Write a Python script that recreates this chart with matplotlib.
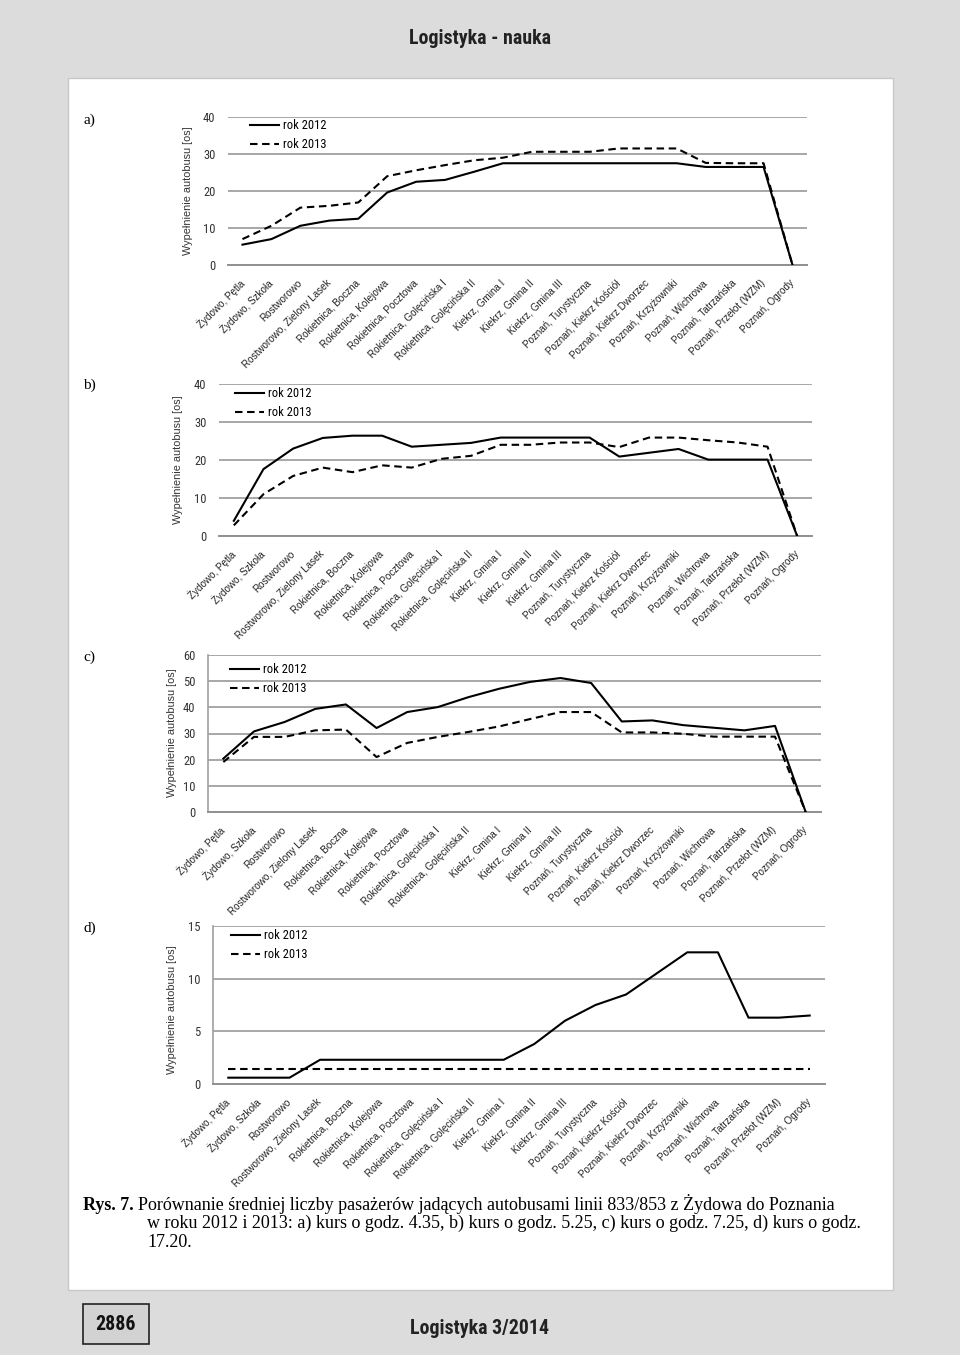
import matplotlib
matplotlib.use("Agg")
import matplotlib.pyplot as plt
from matplotlib import font_manager
from matplotlib.patches import Rectangle

# ---------------- data ----------------
stops = ["Żydowo, Pętla", "Żydowo, Szkoła", "Rostworowo", "Rostworowo, Zielony Lasek",
         "Rokietnica, Boczna", "Rokietnica, Kolejowa", "Rokietnica, Pocztowa",
         "Rokietnica, Golęcińska I", "Rokietnica, Golęcińska II", "Kiekrz, Gmina I",
         "Kiekrz, Gmina II", "Kiekrz, Gmina III", "Poznań, Turystyczna",
         "Poznań, Kiekrz Kościół", "Poznań, Kiekrz Dworzec", "Poznań, Krzyżowniki",
         "Poznań, Wichrowa", "Poznań, Tatrzańska", "Poznań, Przełot (WZM)", "Poznań, Ogrody"]

a_2012 = [5.5, 7.0, 10.6, 12.0, 12.5, 19.6, 22.5, 23.0, 25.2, 27.5, 27.5, 27.5, 27.5, 27.5, 27.5, 27.5, 26.5, 26.5, 26.5, 0]
a_2013 = [7.0, 10.6, 15.5, 16.0, 16.9, 24.0, 25.6, 27.0, 28.3, 29.0, 30.6, 30.6, 30.6, 31.5, 31.5, 31.5, 27.6, 27.5, 27.5, 0]

b_2012 = [4.0, 17.6, 23.0, 25.8, 26.4, 26.4, 23.5, 24.0, 24.5, 25.9, 25.9, 25.9, 25.9, 20.9, 21.9, 22.9, 20.1, 20.1, 20.1, 0]
b_2013 = [2.8, 11.0, 15.8, 18.0, 16.8, 18.6, 18.0, 20.3, 21.1, 24.0, 24.0, 24.6, 24.6, 23.4, 25.9, 25.9, 25.2, 24.6, 23.5, 0]

c_2012 = [20.4, 30.8, 34.4, 39.4, 41.1, 32.1, 38.2, 40.1, 43.9, 47.1, 49.7, 51.2, 49.3, 34.6, 35.0, 33.2, 32.2, 31.2, 32.9, 0]
c_2013 = [19.1, 28.7, 28.7, 31.2, 31.5, 21.0, 26.4, 28.7, 30.6, 32.7, 35.5, 38.2, 38.2, 30.4, 30.4, 29.9, 28.8, 28.8, 28.8, 0]

d_2012 = [0.6, 0.6, 0.6, 2.3, 2.3, 2.3, 2.3, 2.3, 2.3, 2.3, 3.8, 6.0, 7.5, 8.5, 10.5, 12.5, 12.5, 6.3, 6.3, 6.5]
d_2013 = [1.4, 1.4, 1.4, 1.4, 1.4, 1.4, 1.4, 1.4, 1.4, 1.4, 1.4, 1.4, 1.4, 1.4, 1.4, 1.4, 1.4, 1.4, 1.4, 1.4]

series_labels = ["rok 2012", "rok 2013"]
panel_letters = ["a)", "b)", "c)", "d)"]
y_maxes = [40, 40, 60, 15]
y_steps = [10, 10, 10, 5]
y_title = "Wypełnienie autobusu [os]"

header = "Logistyka - nauka"
footer = "Logistyka 3/2014"
page_no = "2886"
cap_bold = "Rys. 7."
cap_l1 = "Porównanie średniej liczby pasażerów jadących autobusami linii 833/853 z Żydowa do Poznania"
cap_l2 = "w roku 2012 i 2013: a) kurs o godz. 4.35, b) kurs o godz. 5.25, c) kurs o godz. 7.25, d) kurs o godz."
cap_l3 = "17.20."

# ---------------- fonts ----------------
avail = {f.name for f in font_manager.fontManager.ttflist}
def pick(*names):
    for n in names:
        if n in avail:
            return n
    return "DejaVu Sans"
SANS = pick("Liberation Sans", "Arial", "DejaVu Sans")
NARROW = pick("Liberation Sans Narrow", "DejaVu Sans Condensed", "Roboto Condensed", "Liberation Sans")
SERIF = pick("Liberation Serif", "DejaVu Serif")

W, H = 960, 1355
fig = plt.figure(figsize=(W / 100, H / 100), dpi=100)
fig.patch.set_facecolor("#dcdcdc")

def rect(l, t, r, b):
    return [l / W, 1 - b / H, (r - l) / W, (b - t) / H]

def fx(x):
    return x / W

def fy(y):
    return 1 - y / H

# white page
fig.patches.append(Rectangle((fx(68), fy(1290)), (893 - 68) / W, (1290 - 78) / H,
                             transform=fig.transFigure, facecolor="white",
                             edgecolor="#c8c8c8", lw=1, zorder=-10))

# header / footer
fig.text(fx(480), fy(38), header, ha="center", va="center", fontsize=14.3,
         fontweight="bold", family=[NARROW, "DejaVu Sans"], color="#222222")
fig.text(fx(480), fy(1328), footer, ha="center", va="center", fontsize=14.3,
         fontweight="bold", family=[NARROW, "DejaVu Sans"], color="#222222")
fig.patches.append(Rectangle((fx(83), fy(1344)), (149 - 83) / W, (1344 - 1304) / H,
                             transform=fig.transFigure, facecolor="#d2d2d2",
                             edgecolor="#222222", lw=1.2, zorder=-5))
fig.text(fx(116), fy(1324), page_no, ha="center", va="center", fontsize=14.3,
         fontweight="bold", family=[NARROW, "DejaVu Sans"], color="#111111")

panels = [
    dict(box=(228, 117, 807, 265), spine=False, ylab=(188, 191), leg=(250, 119), letter=(83, 120),
         s12=a_2012, s13=a_2013),
    dict(box=(219, 384, 812, 536), spine=False, ylab=(178, 460), leg=(235, 387), letter=(83, 385),
         s12=b_2012, s13=b_2013),
    dict(box=(208, 655, 821, 812), spine=True, ylab=(172, 733), leg=(230, 663), letter=(83, 657),
         s12=c_2012, s13=c_2013),
    dict(box=(213, 926, 825, 1084), spine=True, ylab=(172, 1010), leg=(231, 929), letter=(83, 928),
         s12=d_2012, s13=d_2013),
]

grid_c = "#a0a0a0"
for i, p in enumerate(panels):
    l, t, r, b = p["box"]
    ax = fig.add_axes(rect(l, t, r, b))
    ax.set_facecolor("none")
    x = list(range(len(stops)))
    ax.plot(x, p["s12"], color="black", lw=1.5, solid_joinstyle="round",
            label=series_labels[0], zorder=3)
    ax.plot(x, p["s13"], color="black", lw=1.5, dashes=(3.6, 2.2),
            label=series_labels[1], zorder=3)
    ax.set_xlim(-0.5, len(stops) - 0.5)
    ax.set_ylim(0, y_maxes[i])
    ax.set_yticks(range(0, y_maxes[i] + 1, y_steps[i]))
    ax.yaxis.grid(True, color=grid_c, lw=1.3)
    ax.set_axisbelow(True)
    for side in ["top", "right"]:
        ax.spines[side].set_visible(False)
    ax.spines["left"].set_visible(p["spine"])
    ax.spines["left"].set_color(grid_c)
    ax.spines["left"].set_linewidth(1.2)
    ax.spines["bottom"].set_color("#909090")
    ax.spines["bottom"].set_linewidth(1.4)
    ax.tick_params(axis="both", length=0)
    ax.tick_params(axis="y", pad=9, labelsize=9, labelcolor="#333333")
    ax.set_xticks(x)
    ax.set_xticklabels(stops, rotation=45, ha="right", va="center",
                       rotation_mode="anchor", fontsize=7.1, color="#222222", family=SANS)
    ax.tick_params(axis="x", pad=12)
    for lab in ax.get_yticklabels():
        lab.set_family(NARROW)
    lx, ly = p["leg"]
    ax.legend(loc="upper left", bbox_to_anchor=((lx - l) / (r - l), (b - ly) / (b - t)),
              frameon=False, handlelength=2.3, handletextpad=0.35,
              labelspacing=0.5, borderpad=0, borderaxespad=0,
              prop={"family": NARROW, "size": 9})
    fig.text(fx(p["ylab"][0]), fy(p["ylab"][1]), y_title, rotation=90, ha="center", va="center",
             fontsize=7.8, family=SANS, color="#333333")
    fig.text(fx(p["letter"][0]), fy(p["letter"][1]), panel_letters[i], ha="left", va="center",
             fontsize=11, family=SERIF, color="black")

# caption
cs = 13.0
fig.text(fx(83), fy(1210), cap_bold, ha="left", va="baseline", fontsize=cs,
         fontweight="bold", family=SERIF)
fig.text(fx(138), fy(1210), cap_l1, ha="left", va="baseline", fontsize=cs, family=SERIF)
fig.text(fx(147), fy(1228), cap_l2, ha="left", va="baseline", fontsize=cs, family=SERIF)
fig.text(fx(147), fy(1247), cap_l3, ha="left", va="baseline", fontsize=cs, family=SERIF)

fig.savefig("out.png", dpi=100, facecolor=fig.get_facecolor())
